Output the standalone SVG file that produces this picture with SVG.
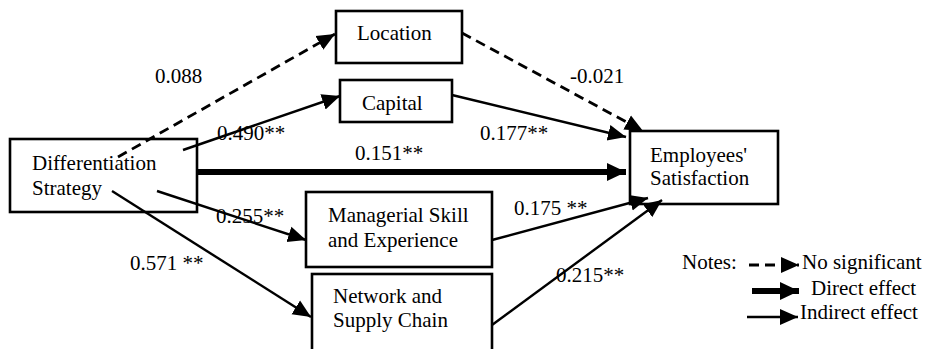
<svg xmlns="http://www.w3.org/2000/svg" width="927" height="349" viewBox="0 0 927 349">
<style>
text{font-family:"Liberation Serif","Times New Roman",serif;font-size:21px;fill:#000}
.box{fill:none;stroke:#000;stroke-width:2.6}
.ind{stroke:#000;stroke-width:2.4;fill:none}
.dash{stroke:#000;stroke-width:2.8;fill:none;stroke-dasharray:10 6}
.dir{stroke:#000;stroke-width:6;fill:none}
</style>
<defs>
<marker id="ah" markerUnits="userSpaceOnUse" markerWidth="20" markerHeight="18" refX="18" refY="9" orient="auto">
<path d="M0,1 L18,9 L0,17 z" fill="#000"/>
</marker>
<marker id="ahb" markerUnits="userSpaceOnUse" markerWidth="20" markerHeight="20" refX="19" refY="10" orient="auto">
<path d="M0,1 L19,10 L0,19 z" fill="#000"/>
</marker>
</defs>
<g id="node-diff"><rect class="box" x="10" y="139" width="187" height="73"/><text x="32" y="170">Differentiation</text><text x="32" y="195">Strategy</text></g>
<g id="node-location"><rect class="box" x="336" y="11" width="126" height="52"/><text x="357" y="40">Location</text></g>
<g id="node-capital"><rect class="box" x="340" y="80" width="112" height="42"/><text x="362" y="110">Capital</text></g>
<g id="node-employees"><rect class="box" x="630" y="131" width="148" height="73"/><text x="650" y="162">Employees'</text><text x="650" y="185">Satisfaction</text></g>
<g id="node-managerial"><rect class="box" x="306" y="192" width="186" height="75"/><text x="328" y="222">Managerial Skill</text><text x="328" y="247">and Experience</text></g>
<g id="node-network"><rect class="box" x="312" y="274" width="180" height="90"/><text x="333" y="303">Network and</text><text x="333" y="327">Supply Chain</text></g>
<g id="connectors">
<line class="dash" x1="118" y1="157" x2="335" y2="34" marker-end="url(#ah)"/>
<line class="ind" x1="183" y1="150" x2="340" y2="96" marker-end="url(#ah)"/>
<line class="dir" x1="197" y1="172" x2="626" y2="172" marker-end="url(#ahb)"/>
<line class="ind" x1="157" y1="191" x2="306" y2="240" marker-end="url(#ah)"/>
<line class="ind" x1="112" y1="191" x2="311" y2="317" marker-end="url(#ah)"/>
<line class="dash" x1="462" y1="33" x2="643" y2="131" marker-end="url(#ah)"/>
<line class="ind" x1="452" y1="95" x2="626" y2="137" marker-end="url(#ah)"/>
<line class="ind" x1="492" y1="240" x2="648" y2="198" marker-end="url(#ah)"/>
<line class="ind" x1="492" y1="325" x2="662" y2="200" marker-end="url(#ah)"/>
</g>
<g id="labels">
<text x="155" y="83">0.088</text>
<text x="217" y="140">0.490**</text>
<text x="355" y="160">0.151**</text>
<text x="570" y="83">-0.021</text>
<text x="480" y="140">0.177**</text>
<text x="216" y="223">0.255**</text>
<text x="130" y="270">0.571 **</text>
<text x="514" y="215">0.175 **</text>
<text x="556" y="282">0.215**</text>
</g>
<g id="legend">
<text x="682" y="269">Notes:</text>
<line class="dash" x1="749" y1="265" x2="799" y2="265" stroke-dasharray="9 7" marker-end="url(#ah)"/>
<text x="802" y="269">No significant</text>
<line class="dir" stroke-width="5" x1="752" y1="291" x2="799" y2="291" marker-end="url(#ahb)"/>
<text x="811" y="295">Direct effect</text>
<line class="ind" x1="747" y1="317" x2="798" y2="317" marker-end="url(#ah)"/>
<text x="800" y="319">Indirect effect</text>
</g>
</svg>
